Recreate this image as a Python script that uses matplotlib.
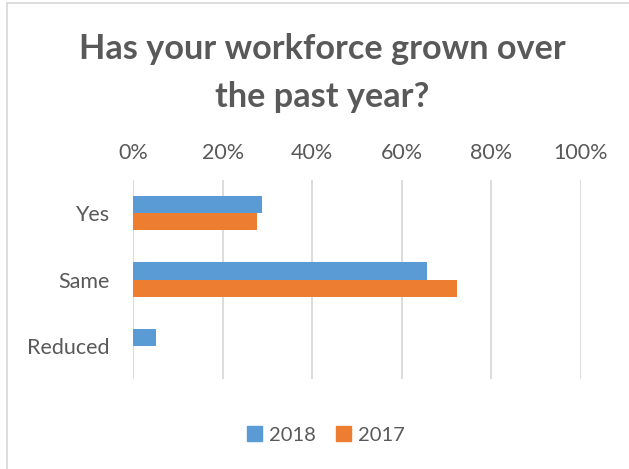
import matplotlib.pyplot as plt
import numpy as np
from matplotlib.patches import Rectangle, Patch
from matplotlib.ticker import PercentFormatter

plt.rcParams["font.family"] = ["Lato", "DejaVu Sans"]

categories = ["Yes", "Same", "Reduced"]
series_names = ["2018", "2017"]
values_2018 = [28.9, 65.6, 5.2]
values_2017 = [27.7, 72.3, 0.0]
colors = ["#5B9BD5", "#ED7D31"]
text_color = "#595959"

W, H = 629, 469
fig = plt.figure(figsize=(W / 100, H / 100), dpi=100)

# chart-area border (only the top and left edges fall inside the canvas)
fig.add_artist(Rectangle((7 / W, -0.1), 1.2, 1 - 3 / H + 0.1, transform=fig.transFigure,
                         fill=False, edgecolor="#D9D9D9", linewidth=1.3))

ax = fig.add_axes([133 / W, 1 - 379 / H, (581 - 133) / W, (379 - 180) / H])

y = np.arange(len(categories))
bar_h = 0.26
ax.barh(y - bar_h / 2, values_2018, height=bar_h, color=colors[0], label=series_names[0])
ax.barh(y + bar_h / 2, values_2017, height=bar_h, color=colors[1], label=series_names[1])

ax.set_xlim(0, 100)
ax.set_ylim(len(categories) - 0.5, -0.5)
ax.set_xticks(np.arange(0, 101, 20))
ax.xaxis.set_major_formatter(PercentFormatter(decimals=0))
ax.xaxis.tick_top()
ax.set_yticks(y)
ax.set_yticklabels(categories)
ax.tick_params(axis="both", length=0, labelsize=15.5, colors=text_color)
ax.tick_params(axis="x", pad=12)
ax.tick_params(axis="y", pad=17)
ax.grid(axis="x", color="#D9D9D9", linewidth=1.3)
ax.set_axisbelow(True)
for s in ax.spines.values():
    s.set_visible(False)

title_lines = ["Has your workforce grown over", "the past year?"]
for line, base_px in zip(title_lines, [59, 107]):
    fig.text(0.513, 1 - base_px / H, line, ha="center", va="baseline",
             fontsize=24.7, fontweight="bold", color=text_color)

handles = [Patch(color=c) for c in colors]
fig.legend(handles, series_names, loc="center", bbox_to_anchor=(0.518, 1 - 435 / H), ncol=2,
           frameon=False, fontsize=14.5, labelcolor=text_color, handlelength=0.75, handleheight=0.75,
           handletextpad=0.35, columnspacing=1.0)

fig.savefig("out.png", dpi=100, facecolor="white")
